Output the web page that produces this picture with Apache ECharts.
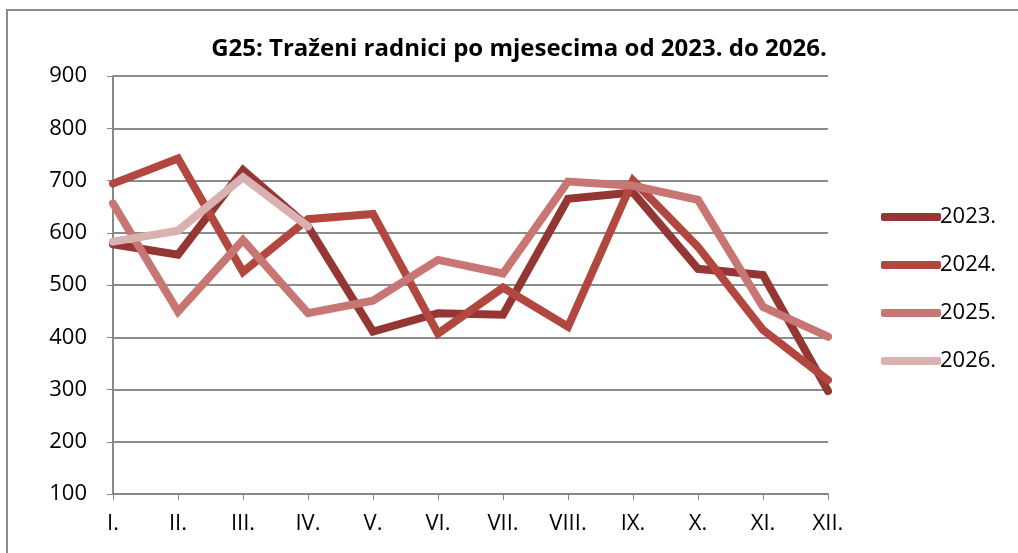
<!DOCTYPE html>
<html>
<head>
<meta charset="utf-8">
<script src="https://cdn.jsdelivr.net/npm/echarts@6/dist/echarts.min.js"></script>
<style>
  html, body { margin: 0; padding: 0; background: #fff; }
  #chart { width: 1018px; height: 553px; }
</style>
</head>
<body>
<div id="chart"></div>
<script>
const months = ['I.', 'II.', 'III.', 'IV.', 'V.', 'VI.', 'VII.', 'VIII.', 'IX.', 'X.', 'XI.', 'XII.']
const y2023 = [578, 558, 720, 612, 411, 446, 443, 665, 677, 531, 519, 297]
const y2024 = [694, 742, 525, 626, 636, 407, 495, 420, 700, 573, 414, 318]
const y2025 = [656, 449, 586, 446, 470, 548, 522, 698, 690, 663, 458, 401]
const y2026 = [583, 604, 706, 612]

const colors = ['#943634', '#b1473f', '#c87674', '#d9b1b0']
const font = '"Open Sans", "Noto Sans", sans-serif'

const chart = echarts.init(document.getElementById('chart'))

const mkSeries = (name, data, color) => ({
  name: name,
  type: 'line',
  data: data,
  symbol: 'none',
  lineStyle: { width: 8, color: color, cap: 'round', join: 'miter' },
  itemStyle: { color: color }
})

chart.setOption({
  animation: false,
  title: {
    text: 'G25: Traženi radnici po mjesecima od 2023. do 2026.',
    left: 514,
    top: 32,
    textAlign: 'center',
    textStyle: { fontFamily: font, fontSize: 24, fontWeight: 'bold', color: '#000' }
  },
  graphic: [{
    type: 'rect',
    shape: { x: 7, y: 10, width: 1030, height: 560 },
    style: { fill: 'none', stroke: '#8c8c8c', lineWidth: 2 },
    silent: true
  }],
  legend: {
    orient: 'vertical',
    left: 876,
    top: 200,
    itemWidth: 60,
    itemHeight: 8,
    itemGap: 24,
    icon: 'roundRect',
    textStyle: { fontFamily: font, fontSize: 22, lineHeight: 24, color: '#000', padding: [0, 0, 0, -6] },
    data: ['2023.', '2024.', '2025.', '2026.']
  },
  grid: { left: 113, right: 190, top: 76, bottom: 59 },
  xAxis: {
    type: 'category',
    data: months,
    boundaryGap: false,
    axisLine: { lineStyle: { color: '#888', width: 2 } },
    axisTick: { length: 6, lineStyle: { color: '#888', width: 1 } },
    axisLabel: { fontFamily: font, fontSize: 22, color: '#000', margin: 19 }
  },
  yAxis: {
    type: 'value',
    min: 100,
    max: 900,
    interval: 100,
    axisLine: { show: true, lineStyle: { color: '#888', width: 2 } },
    axisTick: { show: true, length: 6, lineStyle: { color: '#888', width: 1 } },
    axisLabel: { fontFamily: font, fontSize: 22, color: '#000', margin: 26 },
    splitLine: { lineStyle: { color: '#8c8c8c', width: 2 } }
  },
  series: [
    mkSeries('2023.', y2023, colors[0]),
    mkSeries('2024.', y2024, colors[1]),
    mkSeries('2025.', y2025, colors[2]),
    mkSeries('2026.', y2026, colors[3])
  ]
})
</script>
</body>
</html>
